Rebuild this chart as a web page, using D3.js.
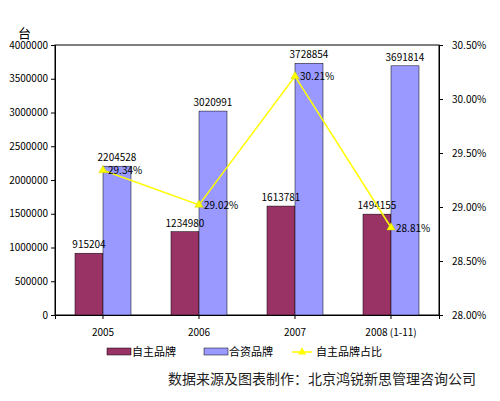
<!DOCTYPE html>
<html><head><meta charset="utf-8">
<script src="https://cdn.jsdelivr.net/npm/d3@7"></script>
<style>body{margin:0;background:#fff}text{font-family:"Noto Sans CJK SC",sans-serif}</style>
</head><body><svg></svg>
<script>
var categories = ["2005", "2006", "2007", "2008 (1-11)"];
var ownBrand = [915204, 1234980, 1613781, 1494155];
var jointBrand = [2204528, 3020991, 3728854, 3691814];
var ownShare = [29.34, 29.02, 30.21, 28.81];
var leftTicks = [0, 500000, 1000000, 1500000, 2000000, 2500000, 3000000, 3500000, 4000000];
var rightTicks = [28.0, 28.5, 29.0, 29.5, 30.0, 30.5];

var svg = d3.select("svg").attr("width", 500).attr("height", 401);
var pLeft = 55, pRight = 439, pTop = 45, pBottom = 315;

var x = d3.scaleBand().domain(categories).range([pLeft, pRight]);
var y = d3.scaleLinear().domain([0, 4000000]).range([pBottom, pTop]);
var y2 = d3.scaleLinear().domain([28, 30.5]).range([pBottom, pTop]);
var bw = 28;

svg.append("rect").attr("x", pLeft).attr("y", pTop).attr("width", pRight - pLeft).attr("height", pBottom - pTop)
    .attr("fill", "none").attr("stroke", "#000");

var yAxis = svg.append("g").attr("transform", "translate(" + pLeft + ",0)")
    .call(d3.axisLeft(y).tickValues(leftTicks).tickFormat(d3.format("d")).tickSize(4));
var y2Axis = svg.append("g").attr("transform", "translate(" + pRight + ",0)")
    .call(d3.axisRight(y2).tickValues(rightTicks).tickFormat(d => d.toFixed(2) + "%").tickSize(4));
var xAxis = svg.append("g").attr("transform", "translate(0," + pBottom + ")")
    .call(d3.axisBottom(x).tickSize(4).tickPadding(10));
[yAxis, y2Axis, xAxis].forEach(function (a) {
    a.selectAll("text").attr("font-size", 10).attr("fill", "#000");
    a.select(".domain").attr("stroke", "#000");
});
y2Axis.selectAll("text").attr("dx", 6);

svg.append("text").attr("x", 18).attr("y", 38).attr("font-size", 13).text("台");

svg.selectAll("rect.own").data(ownBrand).enter().append("rect")
    .attr("x", (d, i) => x(categories[i]) + x.bandwidth() / 2 - bw)
    .attr("y", d => y(d)).attr("width", bw).attr("height", d => pBottom - y(d))
    .attr("fill", "#993366").attr("stroke", "#000").attr("stroke-width", 0.5);
svg.selectAll("rect.joint").data(jointBrand).enter().append("rect")
    .attr("x", (d, i) => x(categories[i]) + x.bandwidth() / 2)
    .attr("y", d => y(d)).attr("width", bw).attr("height", d => pBottom - y(d))
    .attr("fill", "#9999ff").attr("stroke", "#000").attr("stroke-width", 0.5);

svg.selectAll("text.own").data(ownBrand).enter().append("text")
    .attr("x", (d, i) => x(categories[i]) + x.bandwidth() / 2 - bw / 2)
    .attr("y", d => y(d) - 5).attr("text-anchor", "middle").attr("font-size", 10).text(d => d);
svg.selectAll("text.joint").data(jointBrand).enter().append("text")
    .attr("x", (d, i) => x(categories[i]) + x.bandwidth() / 2 + bw / 2)
    .attr("y", d => y(d) - 5).attr("text-anchor", "middle").attr("font-size", 10).text(d => d);

var line = d3.line().x((d, i) => x(categories[i]) + x.bandwidth() / 2).y(d => y2(d));
svg.append("path").attr("d", line(ownShare)).attr("fill", "none").attr("stroke", "#ffff00").attr("stroke-width", 1.5);
var tri = d3.symbol().type(d3.symbolTriangle).size(30);
svg.selectAll("path.pt").data(ownShare).enter().append("path")
    .attr("transform", (d, i) => "translate(" + (x(categories[i]) + x.bandwidth() / 2) + "," + y2(d) + ")")
    .attr("d", tri).attr("fill", "#ffff00").attr("stroke", "#cccc00").attr("stroke-width", 0.5);
svg.selectAll("text.pct").data(ownShare).enter().append("text")
    .attr("x", (d, i) => x(categories[i]) + x.bandwidth() / 2 + 5)
    .attr("y", d => y2(d) + 4).attr("font-size", 10).text(d => d.toFixed(2) + "%");

var lg = svg.append("g").attr("font-size", 11);
lg.append("rect").attr("x", 107).attr("y", 348).attr("width", 24).attr("height", 7).attr("fill", "#993366").attr("stroke", "#000").attr("stroke-width", 0.5);
lg.append("text").attr("x", 132).attr("y", 356).text("自主品牌");
lg.append("rect").attr("x", 204).attr("y", 348).attr("width", 24).attr("height", 7).attr("fill", "#9999ff").attr("stroke", "#000").attr("stroke-width", 0.5);
lg.append("text").attr("x", 229).attr("y", 356).text("合资品牌");
lg.append("line").attr("x1", 292).attr("x2", 312).attr("y1", 352).attr("y2", 352).attr("stroke", "#ffff00").attr("stroke-width", 1.5);
lg.append("path").attr("transform", "translate(302,352)").attr("d", tri).attr("fill", "#ffff00");
lg.append("text").attr("x", 316).attr("y", 356).text("自主品牌占比");

svg.append("text").attr("x", 476).attr("y", 384).attr("text-anchor", "end").attr("font-size", 14)
    .attr("fill", "#222").text("数据来源及图表制作：北京鸿锐新思管理咨询公司");
</script></body></html>
